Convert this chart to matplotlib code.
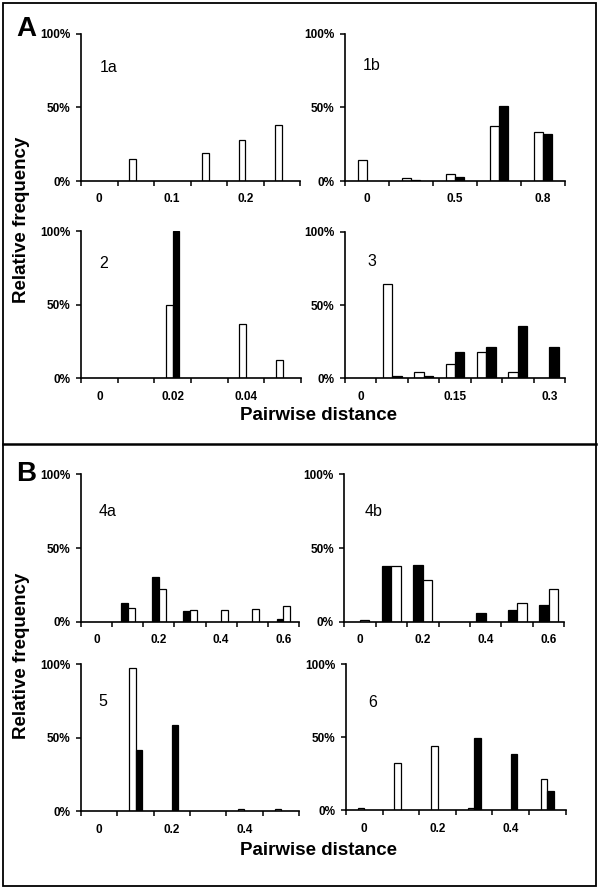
import matplotlib
matplotlib.use("Agg")
import matplotlib.pyplot as plt
import numpy as np

plt.rcParams['font.family'] = ['Liberation Sans', 'DejaVu Sans']

# ---------------- data (relative frequency, %) ----------------
p1a_cats = ["0", "0.05", "0.1", "0.15", "0.2", "0.25"]
p1a_white = [0, 15, 0, 19, 28, 38]
p1a_black = [0, 0, 0, 0, 0, 0]
p1a_labels = {0: "0", 2: "0.1", 4: "0.2"}

p1b_cats = ["0", "0.3", "0.5", "0.7", "0.8"]
p1b_white = [14.5, 2, 4.5, 37, 33]
p1b_black = [0, 1, 2.5, 51, 32]
p1b_labels = {0: "0", 2: "0.5", 4: "0.8"}

p2_cats = ["0", "0.01", "0.02", "0.03", "0.04", "0.05"]
p2_white = [0, 0, 50, 0, 37, 12.5]
p2_black = [0, 0, 100, 0, 0, 0]
p2_labels = {0: "0", 2: "0.02", 4: "0.04"}

p3_cats = ["0", "0.05", "0.1", "0.15", "0.2", "0.25", "0.3"]
p3_white = [0, 64, 4.5, 9.5, 18, 4.5, 0]
p3_black = [0, 1.5, 1.5, 18, 21.5, 35.5, 21.5]
p3_labels = {0: "0", 3: "0.15", 6: "0.3"}

p4a_cats = ["0", "0.1", "0.2", "0.3", "0.4", "0.5", "0.6"]
p4a_black = [0, 13, 30, 7, 0, 0, 1.5]
p4a_white = [0, 9.5, 22.5, 8, 8, 8.5, 10.5]
p4a_labels = {0: "0", 2: "0.2", 4: "0.4", 6: "0.6"}

p4b_cats = ["0", "0.1", "0.2", "0.3", "0.4", "0.5", "0.6"]
p4b_black = [0, 37.5, 38.5, 0, 6, 8, 11.5]
p4b_white = [1, 37.5, 28, 0, 0, 12.5, 22.5]
p4b_labels = {0: "0", 2: "0.2", 4: "0.4", 6: "0.6"}

p5_cats = ["0", "0.1", "0.2", "0.3", "0.4", "0.5"]
p5_white = [0, 97.5, 0, 0, 1.5, 1.5]
p5_black = [0, 41.5, 58.5, 0, 0, 0]
p5_labels = {0: "0", 2: "0.2", 4: "0.4"}

p6_cats = ["0", "0.1", "0.2", "0.3", "0.4", "0.5"]
p6_white = [1.5, 32, 44, 1.5, 0, 21.5]
p6_black = [0, 0, 0, 49.5, 38.5, 13.5]
p6_labels = {0: "0", 2: "0.2", 4: "0.4"}

yticks = [0, 50, 100]
ytick_labels = ["0%", "50%", "100%"]

W, H = 600, 888
fig = plt.figure(figsize=(W / 100, H / 100), dpi=100)


def add_ax(x0, x1, ytop, ybot):
    return fig.add_axes([x0 / W, 1 - ybot / H, (x1 - x0) / W, (ybot - ytop) / H])


def panel(rect, cats, first, second, first_color, second_color, labels, bw, name, name_xy):
    ax = add_ax(*rect)
    n = len(cats)
    idx = np.arange(n)
    first = np.asarray(first, float)
    second = np.asarray(second, float)
    m1 = first > 0
    m2 = second > 0
    ax.bar(idx[m1] - bw / 2, first[m1], width=bw, color=first_color,
           edgecolor="black", linewidth=0.9)
    ax.bar(idx[m2] + bw / 2, second[m2], width=bw, color=second_color,
           edgecolor="black", linewidth=0.9)
    ax.set_xlim(-0.5, n - 0.5)
    ax.set_ylim(0, 100)
    for s in ["top", "right"]:
        ax.spines[s].set_visible(False)
    for s in ["left", "bottom"]:
        ax.spines[s].set_linewidth(1.2)
    ax.set_xticks(list(labels.keys()))
    ax.set_xticklabels(list(labels.values()), fontsize=8.5, fontweight="bold")
    ax.set_xticks(np.arange(n + 1) - 0.5, minor=True)
    ax.tick_params(axis="x", which="major", length=0, pad=9)
    ax.tick_params(axis="x", which="minor", length=3.5, width=1.1, direction="out")
    ax.set_yticks(yticks)
    ax.set_yticklabels(ytick_labels, fontsize=8.5, fontweight="bold")
    ax.tick_params(axis="y", length=3.5, width=1.1, pad=4)
    fig.text(name_xy[0] / W, 1 - name_xy[1] / H, name, fontsize=11.5,
             ha="left", va="center")
    return ax


panel((81, 300, 33.7, 181), p1a_cats, p1a_white, p1a_black, "white", "black",
      p1a_labels, 0.18, "1a", (100, 67))
panel((345, 565, 33.7, 181), p1b_cats, p1b_white, p1b_black, "white", "black",
      p1b_labels, 0.2, "1b", (363, 66))
panel((81, 301, 231, 378.3), p2_cats, p2_white, p2_black, "white", "black",
      p2_labels, 0.18, "2", (99, 263))
panel((345, 565, 231.7, 378.3), p3_cats, p3_white, p3_black, "white", "black",
      p3_labels, 0.3, "3", (367, 261))
panel((81, 299, 474.3, 621.7), p4a_cats, p4a_black, p4a_white, "black", "white",
      p4a_labels, 0.22, "4a", (99, 511))
panel((344.3, 564.3, 474.3, 621.7), p4b_cats, p4b_black, p4b_white, "black", "white",
      p4b_labels, 0.3, "4b", (365, 511))
panel((81, 299, 664.3, 811), p5_cats, p5_white, p5_black, "white", "black",
      p5_labels, 0.17, "5", (98, 701))
panel((346, 565.7, 664, 810.3), p6_cats, p6_white, p6_black, "white", "black",
      p6_labels, 0.18, "6", (368, 702))

# section letters
fig.text(16 / W, 1 - 29 / H, "A", fontsize=20, fontweight="bold", ha="left", va="center")
fig.text(16 / W, 1 - 474 / H, "B", fontsize=20, fontweight="bold", ha="left", va="center")

# axis titles
for yc in (220, 656):
    fig.text(22 / W, 1 - yc / H, "Relative frequency", fontsize=13.5,
             fontweight="bold", rotation=90, ha="center", va="center")
for yc in (415.7, 850.7):
    fig.text(318 / W, 1 - yc / H, "Pairwise distance", fontsize=13.5,
             fontweight="bold", ha="center", va="center")

# frame and divider
from matplotlib.patches import Rectangle
from matplotlib.lines import Line2D
fig.patches.append(Rectangle((3 / W, 1 - 886 / H), 593 / W, 883 / H,
                             transform=fig.transFigure, fill=False,
                             edgecolor="black", linewidth=1.3))
fig.lines.append(Line2D([3 / W, 596 / W], [1 - 444.3 / H, 1 - 444.3 / H],
                        transform=fig.transFigure, color="black", linewidth=1.8))

fig.savefig("out.png", dpi=100)
